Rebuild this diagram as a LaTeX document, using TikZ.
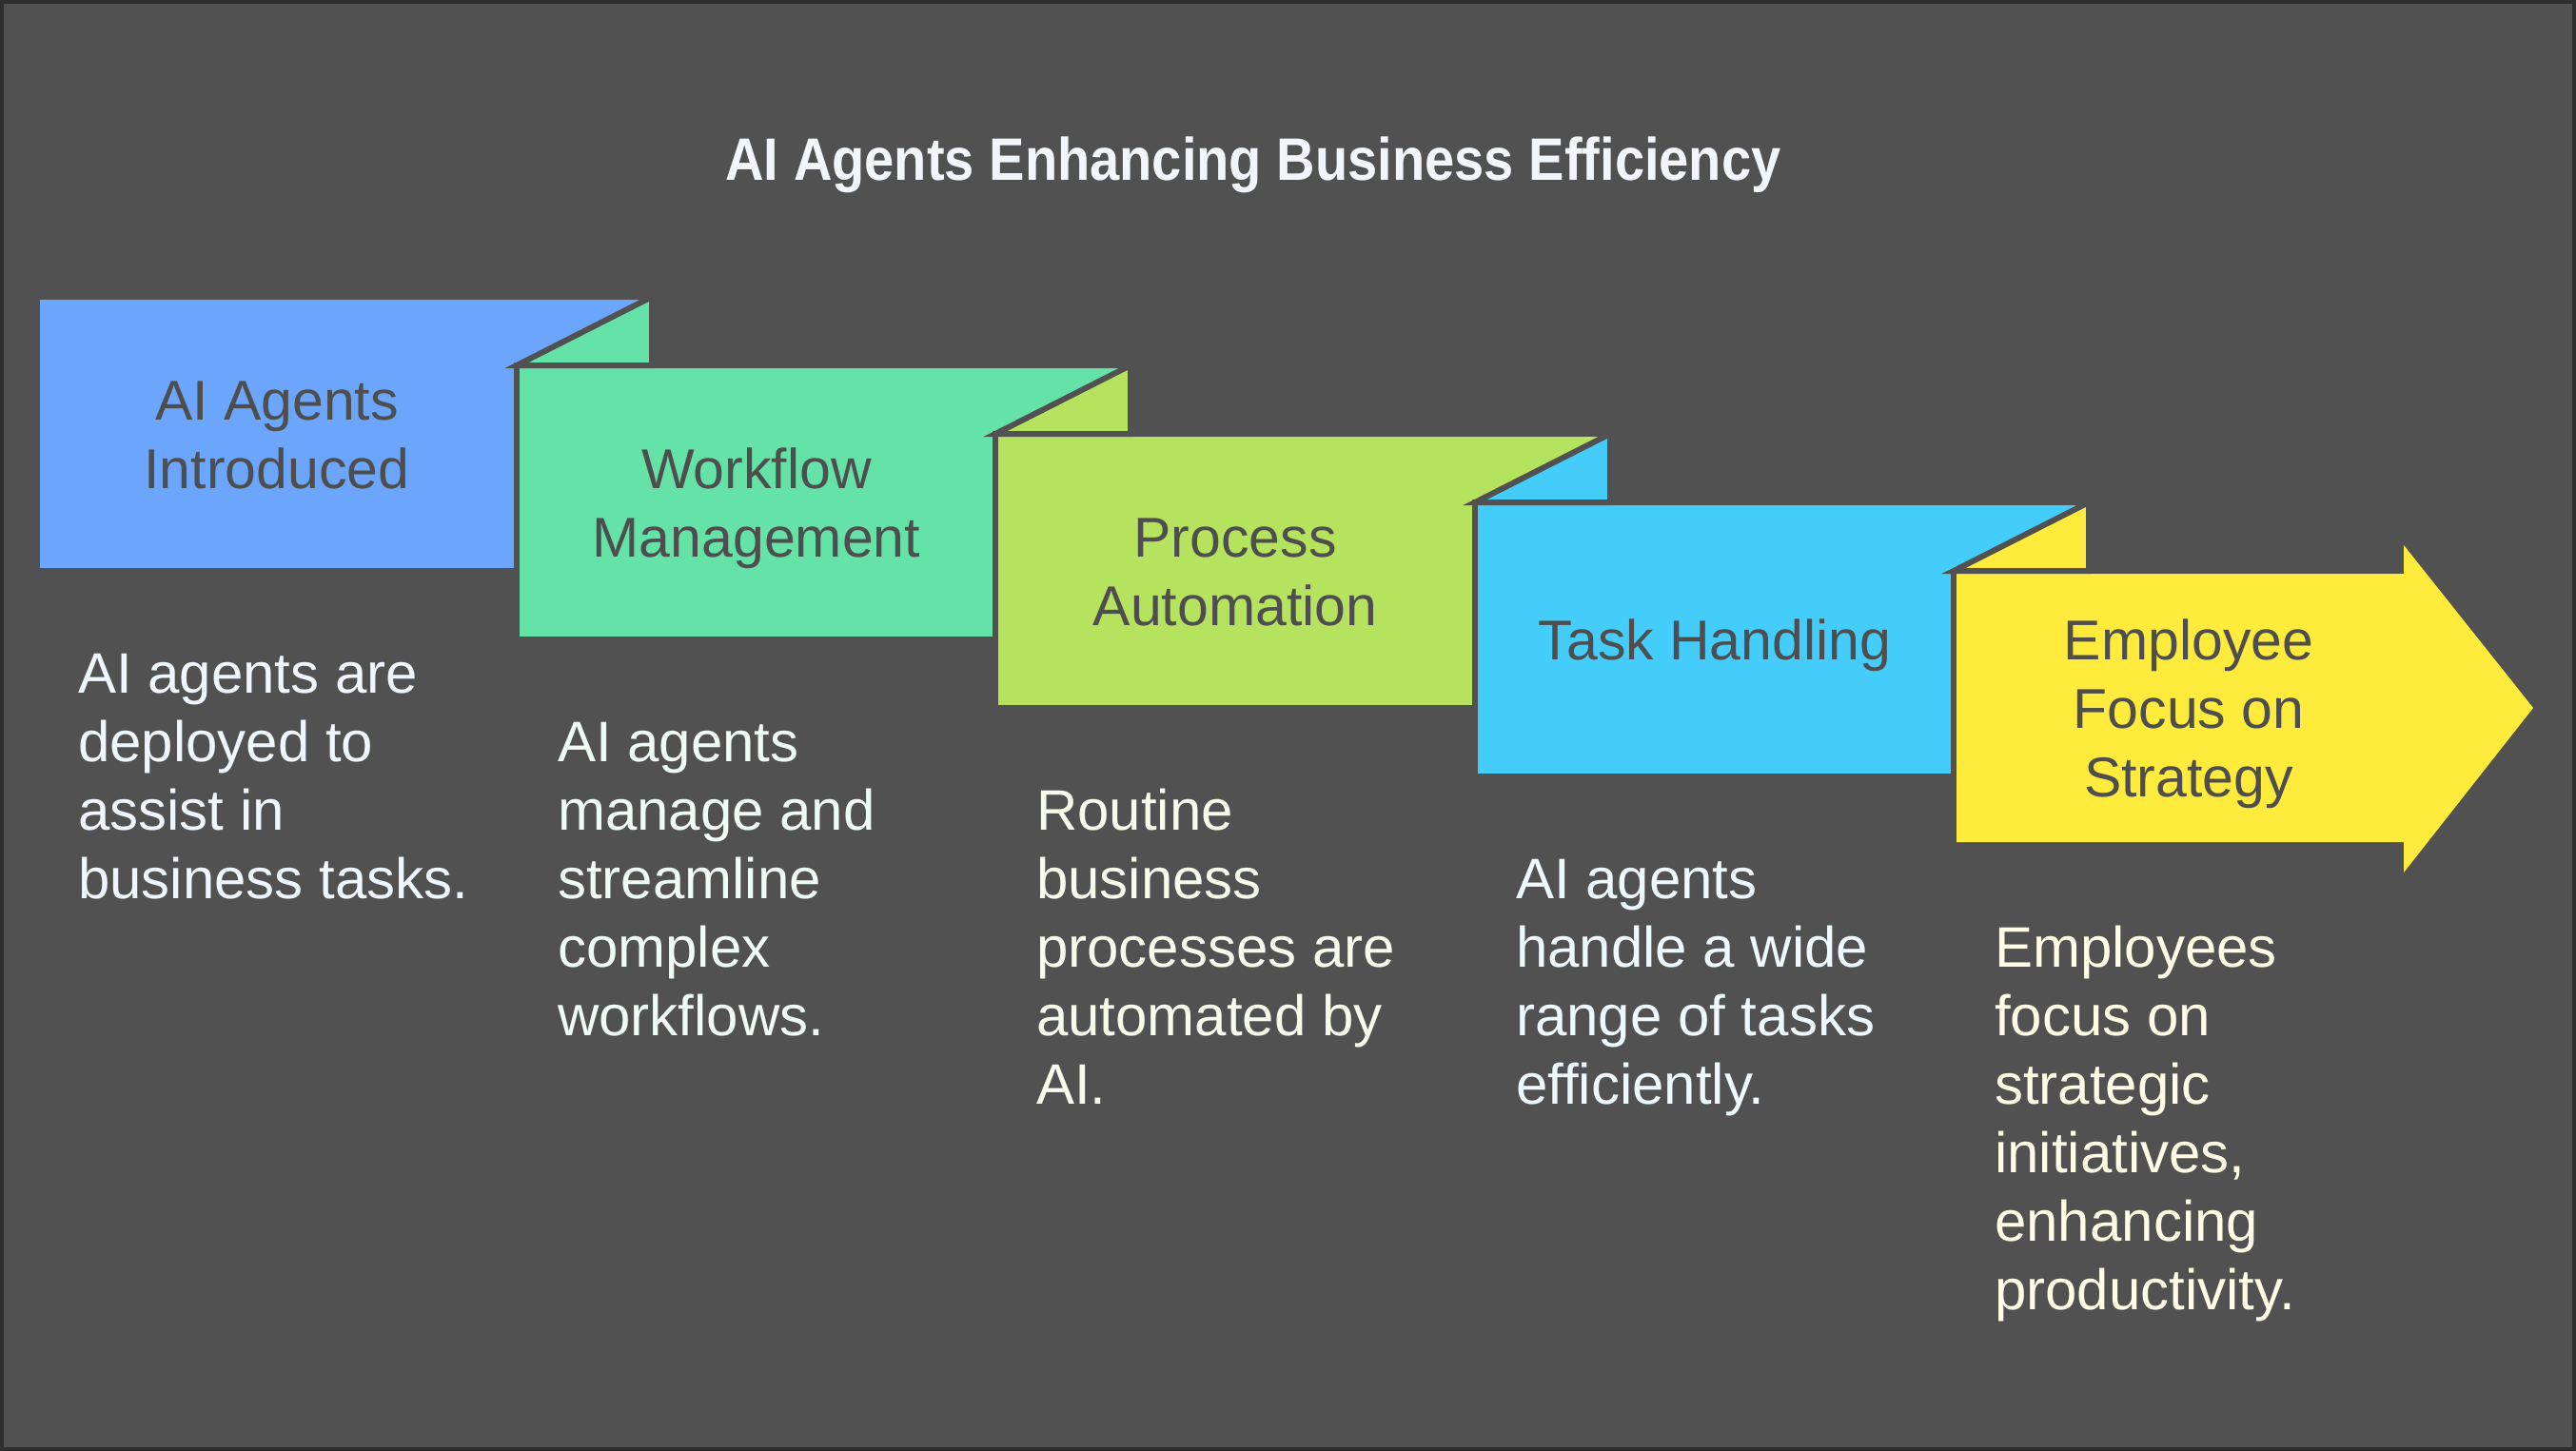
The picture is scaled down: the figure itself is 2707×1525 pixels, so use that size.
\documentclass[tikz,border=0pt]{standalone}
\usepackage{fontspec}
\setmainfont{Liberation Sans}
\newfontfamily\titlefont{Liberation Sans}[FakeStretch=0.89]
\definecolor{bg}{RGB}{81,81,81}
\definecolor{frame}{RGB}{46,46,46}
\definecolor{cblue}{RGB}{107,165,252}
\definecolor{cgreen}{RGB}{100,226,167}
\definecolor{clime}{RGB}{181,227,94}
\definecolor{ccyan}{RGB}{68,205,251}
\definecolor{cyellow}{RGB}{255,235,59}
\definecolor{lblgray}{RGB}{78,78,78}
\definecolor{tblue}{RGB}{240,246,253}
\definecolor{tgreen}{RGB}{240,251,245}
\definecolor{tlime}{RGB}{247,251,236}
\definecolor{tcyan}{RGB}{238,249,254}
\definecolor{tyellow}{RGB}{255,253,230}
\tikzset{
  panel/.style={draw=bg, line width=6pt, line join=miter},
  lbl/.style={anchor=base, inner sep=0pt, text=lblgray, font=\fontsize{59}{72}\selectfont},
  desc/.style={anchor=base west, inner sep=0pt, font=\fontsize{60}{72}\selectfont},
}
\begin{document}
\begin{tikzpicture}[x=1pt,y=-1pt]
\useasboundingbox (0,0) rectangle (2707,1525);
\fill[bg] (0,0) rectangle (2707,1525);
\draw[frame, line width=4pt] (2,2) rectangle (2705,1523);

\node[anchor=base, text={rgb,255:red,242;green,246;blue,250}, inner sep=0pt,
  font=\titlefont\bfseries\fontsize{63}{72}\selectfont] (title) at (1317,190)
  {AI Agents Enhancing Business Efficiency};

% box 1
\path[panel, fill=cblue] (39,312) rectangle (685,600);
% box 2
\path[panel, fill=cgreen] (543,384) rectangle (1188,672);
\path[panel, fill=cgreen] (543,384) -- (685,312) -- (685,384) -- cycle;
% box 3
\path[panel, fill=clime] (1046,456) rectangle (1692,744);
\path[panel, fill=clime] (1046,456) -- (1188,384) -- (1188,456) -- cycle;
% box 4
\path[panel, fill=ccyan] (1550,528) rectangle (2195,816);
\path[panel, fill=ccyan] (1550,528) -- (1692,456) -- (1692,528) -- cycle;
% box 5 (arrow)
\fill[cyellow] (2053,603) -- (2526,603) -- (2526,573) -- (2662,744)
  -- (2526,917) -- (2526,885) -- (2053,885) -- cycle;
\draw[bg, line width=6pt] (2053,600) -- (2053,888);
\path[panel, fill=cyellow] (2053,600) -- (2195,528) -- (2195,600) -- cycle;

% labels
\node[lbl] (l1) at (291,441) {\begin{tabular}[t]{@{}c@{}}AI Agents\\Introduced\end{tabular}};
\node[lbl] (l2) at (795,513) {\begin{tabular}[t]{@{}c@{}}Workflow\\Management\end{tabular}};
\node[lbl] (l3) at (1298,585) {\begin{tabular}[t]{@{}c@{}}Process\\Automation\end{tabular}};
\node[lbl] (l4) at (1802,693) {\begin{tabular}[t]{@{}c@{}}Task Handling\end{tabular}};
\node[lbl] (l5) at (2300,693) {\begin{tabular}[t]{@{}c@{}}Employee\\Focus on\\Strategy\end{tabular}};

% descriptions
\node[desc, text=tblue] (d1) at (82,728) {\begin{tabular}[t]{@{}l@{}}AI agents are\\deployed to\\assist in\\business tasks.\end{tabular}};
\node[desc, text=tgreen] (d2) at (586,800) {\begin{tabular}[t]{@{}l@{}}AI agents\\manage and\\streamline\\complex\\workflows.\end{tabular}};
\node[desc, text=tlime] (d3) at (1089,872) {\begin{tabular}[t]{@{}l@{}}Routine\\business\\processes are\\automated by\\AI.\end{tabular}};
\node[desc, text=tcyan] (d4) at (1593,944) {\begin{tabular}[t]{@{}l@{}}AI agents\\handle a wide\\range of tasks\\efficiently.\end{tabular}};
\node[desc, text=tyellow] (d5) at (2096,1016) {\begin{tabular}[t]{@{}l@{}}Employees\\focus on\\strategic\\initiatives,\\enhancing\\productivity.\end{tabular}};
\end{tikzpicture}
\end{document}
